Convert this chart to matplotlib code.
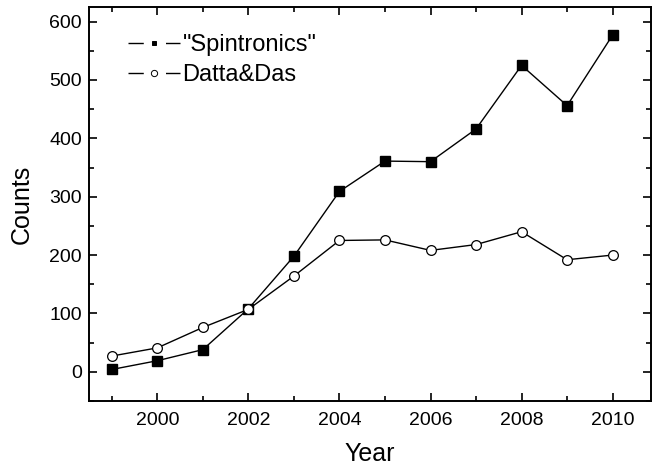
import numpy as np
import matplotlib.pyplot as plt
from matplotlib.lines import Line2D
from matplotlib.ticker import MultipleLocator

plt.rcParams['font.family'] = ['Liberation Sans', 'DejaVu Sans']

years = [1999, 2000, 2001, 2002, 2003, 2004, 2005, 2006, 2007, 2008, 2009, 2010]
spintronics = [4, 19, 38, 108, 198, 309, 361, 360, 416, 525, 456, 577]
datta_das = [27, 41, 76, 107, 164, 225, 226, 208, 218, 240, 192, 200]

fig = plt.figure(figsize=(6.52, 4.66), dpi=100)
ax = fig.add_axes([0.1365, 0.1395, 0.8625, 0.8455])

ax.plot(years, spintronics, color='black', lw=1.0, marker='s', ms=7,
        mfc='black', mec='black')
ax.plot(years, datta_das, color='black', lw=1.0, marker='o', ms=7,
        mfc='white', mec='black', mew=0.9)

ax.set_xlim(1998.5, 2010.85)
ax.set_ylim(-50, 625)
ax.xaxis.set_major_locator(MultipleLocator(2))
ax.xaxis.set_minor_locator(MultipleLocator(1))
ax.yaxis.set_major_locator(MultipleLocator(100))
ax.yaxis.set_minor_locator(MultipleLocator(50))
ax.tick_params(which='both', direction='in', top=True, right=True,
               width=1.2, labelsize=14)
ax.tick_params(which='major', length=6)
ax.tick_params(which='minor', length=3.5)
ax.tick_params(axis='x', which='major', pad=8)
ax.tick_params(axis='y', which='major', pad=5)
for sp in ax.spines.values():
    sp.set_linewidth(1.4)

ax.set_xlabel('Year', fontsize=18, labelpad=9)
ax.set_ylabel('Counts', fontsize=18, labelpad=11)

# legend keys: line - gap - small marker - gap - line
def key(marker, face):
    seg = Line2D([], [], color='black', lw=1.0, dashes=(11, 16, 11, 10))
    mk = Line2D([], [], ls='', marker=marker, ms=3.5 if marker == 's' else 4.5,
                mfc=face, mec='black', mew=0.7)
    return (seg, mk)

ax.legend([key('s', 'black'), key('o', 'white')],
          ['"Spintronics"', 'Datta&Das'],
          loc='upper left', bbox_to_anchor=(0.069, 0.932), frameon=False,
          fontsize=17, handlelength=2.2, handletextpad=0.12,
          borderpad=0, borderaxespad=0, labelspacing=0.34)

fig.savefig('out.png', dpi=100)
